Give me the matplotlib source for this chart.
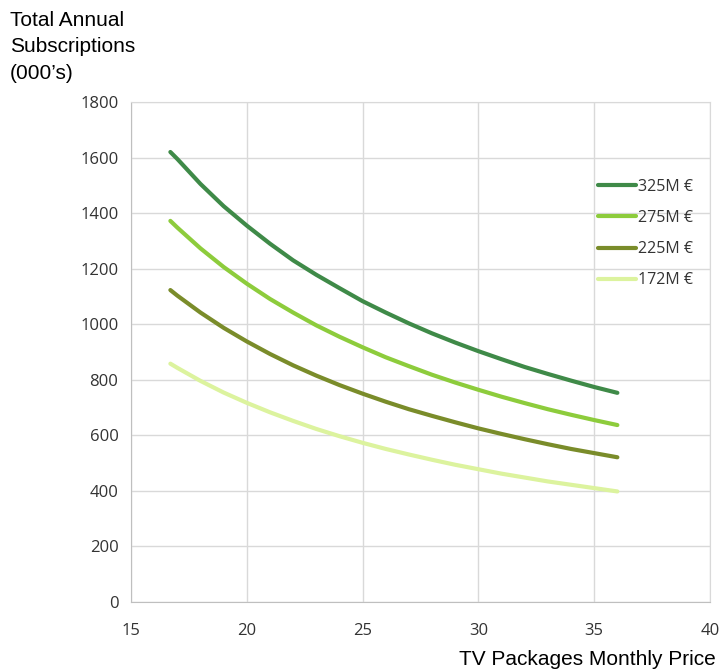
import matplotlib.pyplot as plt

# monthly price (€) and total annual subscriptions (000's)
price = [16.7, 17, 18, 19, 20, 21, 22, 23, 24, 25, 26, 27, 28, 29, 30, 31, 32, 33, 34, 35, 36]
subs_325 = [1620, 1595, 1505, 1425, 1355, 1290, 1230, 1178, 1130, 1083, 1042,
            1003, 967, 934, 903, 874, 846, 821, 797, 774, 753]
subs_275 = [1372, 1348, 1273, 1206, 1146, 1091, 1042, 996, 955, 917, 881,
            849, 818, 790, 764, 739, 716, 694, 674, 655, 637]
subs_225 = [1123, 1103, 1042, 987, 938, 893, 852, 815, 781, 750, 721,
            694, 670, 647, 625, 605, 586, 568, 551, 536, 521]
subs_172 = [858, 843, 796, 754, 717, 683, 652, 623, 597, 573, 551,
            531, 512, 494, 478, 462, 448, 434, 422, 410, 398]

labels = ["325M €", "275M €", "225M €", "172M €"]
colors = ["#3f8a48", "#8dcc3c", "#7a8c2a", "#dcf39e"]

fig = plt.figure(figsize=(7.19, 6.71), dpi=100)
ax = fig.add_axes([131 / 719, 69 / 671, (710 - 131) / 719, 500 / 671])

for ys, lab, c in zip([subs_325, subs_275, subs_225, subs_172], labels, colors):
    ax.plot(price, ys, color=c, lw=3.0, label=lab, solid_capstyle="round")

ax.set_xlim(15, 40)
ax.set_ylim(0, 1800)
ax.set_xticks(range(15, 41, 5))
ax.set_yticks(range(0, 1801, 200))
ax.grid(color="#d9d9d9", lw=1)
ax.set_axisbelow(True)
for s in ax.spines.values():
    s.set_color("#d9d9d9")
ax.spines["left"].set_color("#bfbfbf")
ax.spines["bottom"].set_color("#bfbfbf")
ax.tick_params(length=0, labelsize=12, labelcolor="#333333")
ax.tick_params(axis="x", pad=15)
ax.tick_params(axis="y", pad=9)
for t in ax.get_xticklabels() + ax.get_yticklabels():
    t.set_fontfamily("Open Sans")

leg = ax.legend(loc="upper right", bbox_to_anchor=(0.995, 0.875), frameon=False,
                handlelength=2.4, handletextpad=0.1, labelspacing=0.95,
                prop={"family": "Open Sans", "size": 11.5})
for t in leg.get_texts():
    t.set_color("#333333")

fig.text(10 / 719, 1 - 11 / 671, "Total Annual\nSubscriptions\n(000’s)", ha="left", va="top",
         fontsize=15, family="Liberation Sans", linespacing=1.5)
fig.text(716 / 719, 1 - 665 / 671, "TV Packages Monthly Price", ha="right", va="baseline",
         fontsize=15, family="Liberation Sans")

fig.savefig("out.png", dpi=100)
